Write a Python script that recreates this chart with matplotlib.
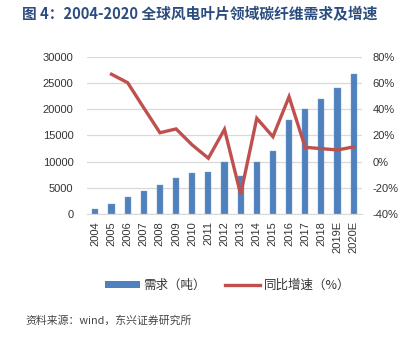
import matplotlib
matplotlib.use("Agg")
import matplotlib.pyplot as plt
from matplotlib.lines import Line2D
from matplotlib.patches import Patch
import numpy as np

plt.rcParams["font.family"] = ["Liberation Sans", "Noto Sans CJK SC", "DejaVu Sans"]

# data
years = ["2004", "2005", "2006", "2007", "2008", "2009", "2010", "2011", "2012",
         "2013", "2014", "2015", "2016", "2017", "2018", "2019E", "2020E"]
demand = [1100, 2000, 3200, 4400, 5500, 6900, 7800, 8000, 9900,
          7300, 9900, 12000, 18000, 20000, 22000, 24000, 26700]
growth = [np.nan, 66.6, 60.2, 41.0, 22.1, 25.0, 12.8, 2.7, 24.7,
          -24.8, 33.1, 19.1, 49.5, 11.0, 10.0, 9.0, 11.3]

title = "图 4：2004-2020 全球风电叶片领域碳纤维需求及增速"
source = "资料来源：wind，东兴证券研究所"

bar_color = "#4F81BD"
line_color = "#C0504D"
text_color = "#333333"
cjk = ["Noto Sans CJK SC", "DejaVu Sans"]

fig = plt.figure(figsize=(3.99, 3.37), dpi=100)
ax = fig.add_axes([0.2188, 0.3641, 0.6877, 0.4677])
x = np.arange(len(years))

ax.bar(x, demand, width=0.38, color=bar_color, edgecolor="#7FA3D1", linewidth=0.3, zorder=2)
ax.set_xlim(-0.5, len(years) - 0.5)
ax.set_ylim(0, 30000)
ax.set_yticks(range(0, 30001, 5000))
ax.set_xticks(x)
ax.set_xticklabels(years, rotation=90, fontsize=8, color=text_color)
ax.tick_params(axis="y", labelsize=8, labelcolor=text_color, length=0, pad=10)
ax.tick_params(axis="x", length=0, pad=5)
ax.grid(axis="y", color="#D9D9D9", linewidth=0.9, zorder=0)
ax.set_axisbelow(True)
for side in ["left", "right", "top"]:
    ax.spines[side].set_visible(False)
ax.spines["bottom"].set_color("#D9D9D9")

ax2 = ax.twinx()
ax2.plot(x, growth, color=line_color, linewidth=2.4, solid_joinstyle="miter", zorder=3)
ax2.set_ylim(-40, 80)
ax2.set_yticks(range(-40, 81, 20))
ax2.set_yticklabels([f"{v}%" for v in range(-40, 81, 20)])
ax2.tick_params(axis="y", labelsize=8, labelcolor=text_color, length=0, pad=8)
for side in ["left", "right", "top", "bottom"]:
    ax2.spines[side].set_visible(False)

fig.text(0.5, 0.957, title, ha="center", va="center", fontsize=10.6, fontweight="bold",
         color="#2B4C7E", family=["Noto Sans CJK SC", "DejaVu Sans"])

handles = [Patch(facecolor=bar_color, edgecolor="none"),
           Line2D([0], [0], color=line_color, linewidth=2.4)]
fig.legend(handles, ["需求（吨）", "同比增速（%）"], loc="center", bbox_to_anchor=(0.57, 0.153),
           ncol=2, frameon=False, handlelength=2.8, handleheight=0.5, columnspacing=1.5,
           handletextpad=0.3, prop={"family": cjk, "size": 9}, labelcolor=text_color)

fig.text(0.063, 0.05, source, ha="left", va="center", fontsize=7.8, color="#444444",
         family=cjk)

fig.savefig("out.png", dpi=100)
